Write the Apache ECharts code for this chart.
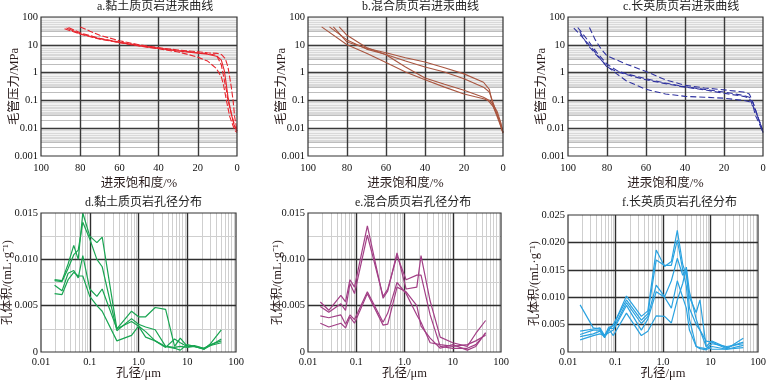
<!DOCTYPE html>
<html><head><meta charset="utf-8">
<script src="https://cdn.jsdelivr.net/npm/echarts@6/dist/echarts.min.js"></script>
<style>html,body{margin:0;padding:0;background:#fff}#c{width:769px;height:383px}</style>
</head><body><div id="c"></div>
<script>
// ---------- tick values ----------
const satTicks = [20, 40, 60, 80];
const pressureDecades = [0.001, 0.01, 0.1, 1, 10, 100];
const poreDecades = [0.01, 0.1, 1, 10, 100];
const poreTickLabels = ['0.01', '0.1', '1.0', '10', '100'];

// ---------- a. clay shale intrusion curves (saturation %, pressure MPa) ----------
const aSat1 = [88, 80, 70, 60, 50, 40, 30, 25, 20, 15, 10.5, 8, 7, 5.4, 3.7, 1.2, 0];
const aP1 = [38, 24, 16, 12, 9, 7.2, 5.5, 4.5, 3.6, 2.6, 1.4, 0.7, 0.4, 0.1, 0.026, 0.0085, 0.007];
const aSat2 = [86, 80, 70, 60, 50, 40, 30, 20, 15, 10.5, 8, 6.8, 5.4, 4.6, 2.9, 1, 0];
const aP2 = [42, 27, 17, 12.5, 9.5, 7.6, 6.2, 5.2, 4.8, 4.2, 1.9, 0.7, 0.23, 0.1, 0.034, 0.011, 0.008];
const aSat3 = [80, 75, 70, 60, 50, 40, 30, 20, 15, 10, 8, 6, 4.6, 2.9, 2, 1.2, 0];
const aP3 = [44, 31, 22, 14, 10, 7.9, 6.5, 5.6, 5.2, 4.9, 4.5, 3.2, 1.6, 0.3, 0.1, 0.026, 0.008];
const aSat4 = [87, 80, 70, 60, 50, 40, 30, 20, 15, 10, 8, 6.5, 5.5, 4.5, 3, 1.5, 0];
const aP4 = [40, 25, 16.5, 12.2, 9.3, 7.4, 6, 5, 4.6, 3.8, 2.8, 1.2, 0.4, 0.12, 0.035, 0.013, 0.008];

// ---------- b. mixed shale ----------
const bSat1 = [93, 80, 70, 60, 50, 40, 30, 20, 10, 7.7, 5, 4.3, 1.7, 0];
const bP1 = [44, 10, 5, 2.3, 1.05, 0.55, 0.3, 0.17, 0.115, 0.1, 0.06, 0.045, 0.015, 0.0066];
const bSat2 = [89, 80, 70, 60, 50, 40, 30, 20, 10, 7, 5.5, 4, 2, 0];
const bP2 = [44, 15, 7, 4.5, 2.6, 1.6, 1.05, 0.6, 0.3, 0.2, 0.1, 0.05, 0.02, 0.007];
const bSat3 = [87, 80, 70, 60, 50, 40, 30, 20, 10, 7, 6, 5, 3, 1, 0];
const bP3 = [44, 12.6, 7.5, 5.2, 3.4, 2.4, 1.5, 0.9, 0.45, 0.25, 0.12, 0.06, 0.03, 0.012, 0.007];
const bSat4 = [84, 80, 70, 60, 50, 40, 30, 20, 10, 7, 5, 3, 1, 0];
const bP4 = [44, 22, 8, 4.4, 1.6, 0.64, 0.38, 0.23, 0.13, 0.1, 0.07, 0.04, 0.015, 0.007];

// ---------- c. felsic shale ----------
const cSat1 = [97, 93, 88, 84, 80, 75, 70, 60, 50, 40, 30, 20, 10, 7, 5, 4, 2, 0];
const cP1 = [40, 20, 8, 3.5, 1.6, 1.1, 0.85, 0.55, 0.4, 0.3, 0.24, 0.18, 0.14, 0.12, 0.06, 0.03, 0.015, 0.007];
const cSat2 = [95, 90, 85, 80, 75, 70, 60, 50, 40, 30, 20, 10, 7, 5, 3, 1, 0];
const cP2 = [42, 15, 5, 2, 1.2, 0.9, 0.6, 0.42, 0.31, 0.25, 0.2, 0.15, 0.13, 0.08, 0.03, 0.012, 0.007];
const cSat3 = [89, 86, 83, 80, 70, 60, 50, 40, 30, 20, 10, 7, 5, 3, 1, 0];
const cP3 = [42, 15, 7, 4, 2, 1.1, 0.55, 0.35, 0.28, 0.24, 0.2, 0.17, 0.08, 0.03, 0.012, 0.007];
const cSat4 = [94, 90, 85, 80, 75, 70, 60, 50, 40, 30, 20, 10, 7, 5, 3, 1, 0];
const cP4 = [30, 10, 4, 1.7, 0.9, 0.5, 0.25, 0.17, 0.14, 0.13, 0.12, 0.1, 0.09, 0.06, 0.03, 0.012, 0.007];

// ---------- d. clay shale pore size distribution ----------
const dPore = [0.019, 0.027, 0.036, 0.047, 0.058, 0.072, 0.1, 0.14, 0.18, 0.36, 0.72, 1.0, 1.4, 2.2, 3.6, 5.5, 7.2, 10, 14, 22, 30, 50];
const dV1 = [0.0078, 0.0077, 0.0095, 0.0115, 0.0100, 0.0150, 0.0125, 0.0118, 0.0124, 0.0025, 0.0044, 0.0038, 0.0038, 0.0048, 0.0046, 0.0006, 0.0015, 0.0006, 0.0006, 0.0003, 0.0009, 0.0024];
const dV2 = [0.0077, 0.0076, 0.0090, 0.0105, 0.0110, 0.0140, 0.0122, 0.0100, 0.0092, 0.0023, 0.0036, 0.0030, 0.0027, 0.0024, 0.0006, 0.0005, 0.0006, 0.0005, 0.0006, 0.0004, 0.0007, 0.0014];
const dV3 = [0.0072, 0.0066, 0.0085, 0.0088, 0.0080, 0.0104, 0.0068, 0.0060, 0.0068, 0.0025, 0.0033, 0.0028, 0.0022, 0.0012, 0.0005, 0.0014, 0.0010, 0.0006, 0.0007, 0.0004, 0.0008, 0.0012];
const dV4 = [0.0063, 0.0062, 0.0078, 0.0086, 0.0082, 0.0082, 0.0060, 0.0050, 0.0044, 0.0012, 0.0018, 0.0028, 0.0016, 0.0012, 0.0006, 0.0004, 0.0002, 0.0008, 0.0006, 0.0003, 0.0007, 0.0010];

// ---------- e. mixed shale pore size distribution ----------
const ePore = [0.018, 0.027, 0.048, 0.06, 0.074, 0.092, 0.17, 0.36, 0.45, 0.7, 1.08, 1.8, 2.2, 3.4, 5.5, 10, 20, 30, 48];
const eV1 = [0.0054, 0.0045, 0.0061, 0.0054, 0.0078, 0.0070, 0.0136, 0.0058, 0.0066, 0.0107, 0.0068, 0.0070, 0.0104, 0.0055, 0.0016, 0.0010, 0.0006, 0.0020, 0.0034];
const eV2 = [0.0049, 0.0043, 0.0052, 0.0045, 0.0074, 0.0063, 0.0126, 0.0060, 0.0068, 0.0104, 0.0078, 0.0083, 0.0083, 0.0040, 0.0006, 0.0004, 0.0004, 0.0008, 0.0020];
const eV3 = [0.0039, 0.0037, 0.0040, 0.0030, 0.0040, 0.0035, 0.0065, 0.0032, 0.0042, 0.0075, 0.0063, 0.0040, 0.0032, 0.0010, 0.0008, 0.0006, 0.0008, 0.0012, 0.0018];
const eV4 = [0.0031, 0.0027, 0.0031, 0.0026, 0.0038, 0.0031, 0.0063, 0.0029, 0.0030, 0.0070, 0.0065, 0.0050, 0.0028, 0.0015, 0.0004, 0.0008, 0.0002, 0.0006, 0.0021];

// ---------- f. felsic shale pore size distribution ----------
const fPore = [0.018, 0.034, 0.047, 0.059, 0.072, 0.09, 0.17, 0.35, 0.48, 0.72, 1.08, 1.5, 2.0, 2.6, 3.1, 3.6, 5.0, 6.0, 8.1, 10.7, 22, 49];
const fV1 = [0.0038, 0.0042, 0.0044, 0.0030, 0.0045, 0.0048, 0.0102, 0.0065, 0.0075, 0.0186, 0.0156, 0.0165, 0.0222, 0.0160, 0.0140, 0.0100, 0.0072, 0.0095, 0.0010, 0.0005, 0.0005, 0.0008];
const fV2 = [0.0032, 0.0040, 0.0040, 0.0028, 0.0040, 0.0050, 0.0095, 0.0058, 0.0070, 0.0168, 0.0158, 0.0158, 0.0204, 0.0150, 0.0120, 0.0060, 0.0010, 0.0006, 0.0004, 0.0010, 0.0005, 0.0012];
const fV3 = [0.0028, 0.0033, 0.0038, 0.0026, 0.0043, 0.0043, 0.0090, 0.0052, 0.0065, 0.0122, 0.0101, 0.0130, 0.0171, 0.0140, 0.0150, 0.0080, 0.0050, 0.0040, 0.0010, 0.0020, 0.0008, 0.0018];
const fV4 = [0.0022, 0.0030, 0.0033, 0.0030, 0.0035, 0.0040, 0.0085, 0.0040, 0.0060, 0.0110, 0.0100, 0.0080, 0.0130, 0.0100, 0.0080, 0.0040, 0.0010, 0.0008, 0.0006, 0.0015, 0.0010, 0.0015];
const fV5 = [0.0086, 0.0044, 0.0042, 0.0027, 0.0042, 0.0030, 0.0071, 0.0030, 0.0038, 0.0066, 0.0065, 0.0053, 0.0095, 0.0125, 0.0155, 0.0110, 0.0060, 0.0040, 0.0020, 0.0018, 0.0006, 0.0025];

// ---------- helpers ----------
const NUM = '"Liberation Serif","Times New Roman",serif';
const TXT = '"Liberation Serif","Noto Sans CJK SC",serif';
const zip = (xs, ys) => xs.map((x, i) => [x, ys[i]]);
const minorLog = (decs, ks) => { const r = []; for (let i = 0; i < decs.length - 1; i++) ks.forEach(k => r.push(+(decs[i] * k).toPrecision(3))); return r; };

const grids = [
  {left: 41, top: 17, width: 196, height: 139},
  {left: 308, top: 17, width: 195, height: 139},
  {left: 568, top: 17, width: 195, height: 139},
  {left: 41, top: 213, width: 195, height: 139},
  {left: 308, top: 213, width: 193, height: 139},
  {left: 568, top: 215, width: 190, height: 137}
];

const titles = [
  ['a.黏土质页岩进汞曲线', 97, 1], ['b.混合质页岩进汞曲线', 362, 1], ['c.长英质页岩进汞曲线', 623, 1],
  ['d.黏土质页岩孔径分布', 85, 197], ['e.混合质页岩孔径分布', 355, 197], ['f.长英质页岩孔径分布', 622, 197]
];

const labelStyle = {fontFamily: NUM, fontSize: 10.5, color: '#111'};
const nameStyle = {fontFamily: TXT, fontSize: 12.5, color: '#2a1d1d'};

const xAxes = [], yAxes = [], series = [];
for (let g = 0; g < 3; g++) {
  xAxes.push({gridIndex: g, type: 'value', min: 0, max: 100, interval: 20, inverse: true,
    axisLine: {show: false}, axisTick: {show: false}, splitLine: {show: false},
    axisLabel: Object.assign({margin: 7}, labelStyle),
    name: '进汞饱和度/%', nameLocation: 'middle', nameGap: 21, nameMoveOverlap: false, nameTextStyle: nameStyle});
  yAxes.push({gridIndex: g, type: 'log', logBase: 10, min: 0.001, max: 100,
    axisLine: {show: false}, axisTick: {show: false}, splitLine: {show: false},
    axisLabel: Object.assign({margin: 3, formatter: v => String(pressureDecades[Math.round(Math.log10(v)) + 3])}, labelStyle),
    name: '毛管压力/MPa', nameLocation: 'middle', nameGap: 20, nameMoveOverlap: false, nameTextStyle: nameStyle});
}
const vMax = [0.015, 0.015, 0.025];
const vNameGap = [27, 24, 27];
for (let g = 3; g < 6; g++) {
  xAxes.push({gridIndex: g, type: 'log', logBase: 10, min: 0.01, max: 100,
    axisLine: {show: false}, axisTick: {show: false}, splitLine: {show: false},
    axisLabel: Object.assign({margin: 5, formatter: v => poreTickLabels[Math.round(Math.log10(v)) + 2]}, labelStyle),
    name: '孔径/μm', nameLocation: 'middle', nameGap: 15, nameMoveOverlap: false, nameTextStyle: nameStyle});
  yAxes.push({gridIndex: g, type: 'value', min: 0, max: vMax[g - 3], interval: 0.005,
    axisLine: {show: false}, axisTick: {show: false}, splitLine: {show: false},
    axisLabel: Object.assign({margin: 3, formatter: v => v === 0 ? '0' : v.toFixed(3)}, labelStyle),
    name: '孔体积/(mL·g⁻¹)', nameLocation: 'middle', nameGap: vNameGap[g - 3], nameMoveOverlap: false, nameTextStyle: nameStyle});
}

function helper(g, kind, items, color, width) {
  const base = {type: 'line', xAxisIndex: g, yAxisIndex: g, data: [], silent: true, symbol: 'none', animation: false, z: 1};
  if (kind === 'area') {
    base.markArea = {silent: true, z: 1, animation: false, itemStyle: {color: color}, data: items};
  } else {
    base.markLine = {silent: true, precision: 10, z: width > 1.2 ? 3 : 2, animation: false, symbol: 'none', label: {show: false},
      lineStyle: {color: color, width: width, type: 'solid'}, emphasis: {disabled: true}, data: items};
  }
  return base;
}

// frames for top (intrusion) panels
const grayBands = pressureDecades.slice(0, -1).map(d => [{yAxis: +(d * 3).toPrecision(3)}, {yAxis: +(d * 10).toPrecision(3)}]);
const minorP23 = minorLog(pressureDecades, [2, 3]);
const minorP49 = minorLog(pressureDecades, [4, 5, 6, 7, 8, 9]);
for (let g = 0; g < 3; g++) {
  series.push(helper(g, 'area', grayBands, '#d9d9d9'));
  series.push(helper(g, 'line', minorP23.map(v => ({yAxis: v})), '#bdbdbd', 1));
  series.push(helper(g, 'line', minorP49.map(v => ({yAxis: v})), '#f2f2f2', 1));
  series.push(helper(g, 'line', pressureDecades.slice(1, -1).map(v => ({yAxis: v})).concat(satTicks.map(v => ({xAxis: v}))), '#3a3a3a', 1.4));
}
// frames for bottom (pore) panels
const minorD = minorLog(poreDecades, [2, 3, 4, 5, 6, 7, 8, 9]);
const lightV = [0.0025, 0.0075, 0.0125];
const darkV = [0.005, 0.010, 0.015, 0.020];
for (let g = 3; g < 6; g++) {
  series.push(helper(g, 'line', minorD.map(v => ({xAxis: v})), '#cfcfcf', 1));
  const max = vMax[g - 3];
  if (g !== 5) series.push(helper(g, 'line', lightV.map(v => ({yAxis: v})), '#cfcfcf', 1));
  series.push(helper(g, 'line', poreDecades.slice(1, -1).map(v => ({xAxis: v})).concat(darkV.filter(v => v < max - 1e-9).map(v => ({yAxis: v}))), '#2e2e2e', 1.4));
}

function curve(g, data, color, type, width) {
  series.push({type: 'line', xAxisIndex: g, yAxisIndex: g, data: data, symbol: 'none', z: 10, animation: false,
    lineStyle: {color: color, width: width || 1.1, type: type || 'solid'}});
}
const RED = '#e8262e', BROWN = '#a9553f', NAVY = '#2f32a0', GREEN = '#19a552', PURPLE = '#a23f86', SKY = '#2aa2e0';
curve(0, zip(aSat1, aP1), RED, [6, 2]);
curve(0, zip(aSat2, aP2), RED, [6, 2]);
curve(0, zip(aSat3, aP3), RED, [6, 2]);
curve(0, zip(aSat4, aP4), RED, 'solid');
curve(1, zip(bSat1, bP1), BROWN);
curve(1, zip(bSat2, bP2), BROWN);
curve(1, zip(bSat3, bP3), BROWN);
curve(1, zip(bSat4, bP4), BROWN);
curve(2, zip(cSat1, cP1), NAVY, [6, 3]);
curve(2, zip(cSat2, cP2), NAVY, [6, 3]);
curve(2, zip(cSat3, cP3), NAVY, [6, 3]);
curve(2, zip(cSat4, cP4), NAVY, [6, 3]);
[dV1, dV2, dV3, dV4].forEach(v => curve(3, zip(dPore, v), GREEN, 'solid', 1.2));
[eV1, eV2, eV3, eV4].forEach(v => curve(4, zip(ePore, v), PURPLE, 'solid', 1.2));
[fV1, fV2, fV3, fV4, fV5].forEach(v => curve(5, zip(fPore, v), SKY, 'solid', 1.2));

const chart = echarts.init(document.getElementById('c'));
chart.setOption({
  animation: false,
  backgroundColor: '#fff',
  textStyle: {fontFamily: TXT},
  title: titles.map(([t, l, tp]) => ({text: t, left: l, top: tp, padding: 0,
    textStyle: {fontFamily: TXT, fontSize: 12, fontWeight: 'normal', color: '#222'}})),
  grid: grids.map(g => Object.assign({show: true, borderColor: '#333', borderWidth: 1.2, backgroundColor: 'transparent', z: 11}, g)),
  xAxis: xAxes,
  yAxis: yAxes,
  series: series
});
</script></body></html>
